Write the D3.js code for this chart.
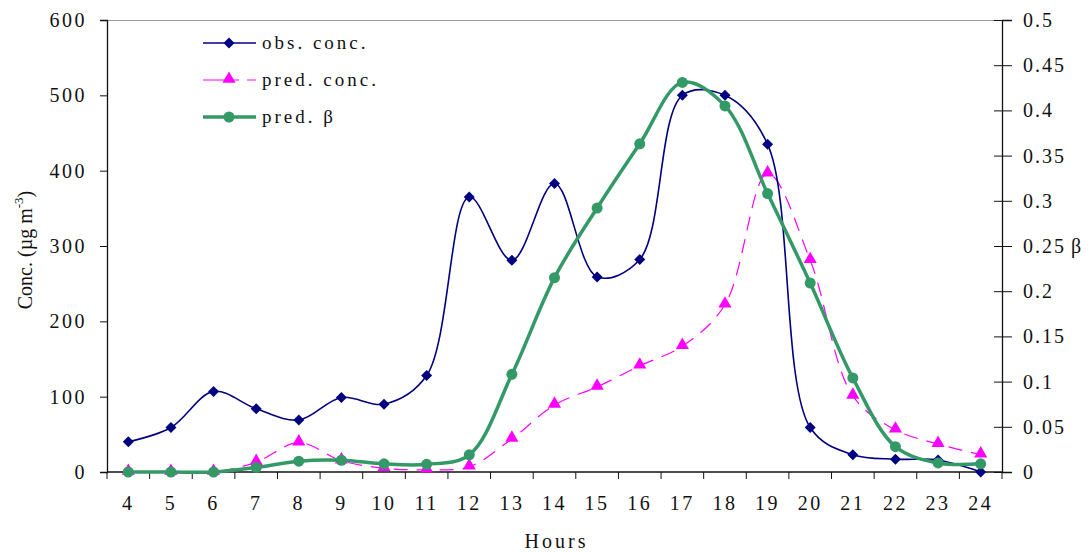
<!DOCTYPE html>
<html>
<head>
  <meta charset="utf-8">
  <title>Conc. and beta by hour</title>
  <script src="https://d3js.org/d3.v7.min.js"></script>
  <style>
    body { margin: 0; background: white; }
    svg text { font-family: "Liberation Serif", "Times New Roman", serif; fill: #111; }
  </style>
</head>
<body>
<div id="chart"></div>
<script>
// hours on the x axis
var hours = d3.range(4, 25);
// observed concentration (ug m-3)
var obsConc = [40, 59, 107, 84, 69, 99, 90, 128, 365, 281, 383, 259, 282, 500, 500, 435, 59, 23, 17, 16, 0];
// predicted concentration (ug m-3)
var predConc = [0, 0, 0, 13, 39, 15, 5, 3, 7, 44, 89, 113, 141, 167, 222, 396, 281, 101, 56, 37, 23];
// predicted beta (right axis)
var predBeta = [0, 0, 0, 0.005, 0.012, 0.013, 0.009, 0.0085, 0.019, 0.108, 0.215, 0.292, 0.363, 0.431, 0.405, 0.308, 0.209, 0.104, 0.028, 0.010, 0.009];

var leftTicks = [0, 100, 200, 300, 400, 500, 600];
var rightTicks = [0, 0.05, 0.1, 0.15, 0.2, 0.25, 0.3, 0.35, 0.4, 0.45, 0.5];

var W = 1091, H = 552;
var margin = {top: 20, right: 89, bottom: 80, left: 107};
var serif = '"Liberation Serif", "Times New Roman", serif';

var svg = d3.select("#chart").append("svg")
  .attr("width", W).attr("height", H);

var x = d3.scaleBand().domain(hours).range([margin.left, W - margin.right]).padding(0);
var yL = d3.scaleLinear().domain([0, 600]).range([H - margin.bottom, margin.top]);
var yR = d3.scaleLinear().domain([0, 0.5]).range([H - margin.bottom, margin.top]);
var cx = function(h) { return x(h) + x.bandwidth() / 2; };

function styleAxis(g, spacing) {
  g.attr("font-family", serif).attr("font-size", 20);
  g.selectAll(".tick text").style("letter-spacing", spacing).attr("fill", "#111");
  g.selectAll(".tick line").attr("stroke", "#111");
}

// top border of plot area
svg.append("line")
  .attr("x1", margin.left).attr("x2", W - margin.right)
  .attr("y1", margin.top + 0.5).attr("y2", margin.top + 0.5)
  .attr("stroke", "#999").attr("stroke-width", 1);

// left axis
var gL = svg.append("g")
  .attr("transform", "translate(" + margin.left + ",0)")
  .call(d3.axisLeft(yL).tickValues(leftTicks).tickSize(7).tickPadding(13));
gL.select(".domain").attr("stroke", "#111").attr("stroke-width", 1.3);
styleAxis(gL, "2.5px");

// right axis (ticks cross the axis)
var gR = svg.append("g")
  .attr("transform", "translate(" + (W - margin.right) + ",0)")
  .call(d3.axisRight(yR).tickValues(rightTicks).tickSize(10).tickPadding(11)
    .tickFormat(function(d) { return d === 0 ? "0" : String(+d.toFixed(2)); }));
gR.select(".domain").attr("stroke", "#111").attr("stroke-width", 1.3);
styleAxis(gR, "2px");
gR.selectAll(".tick line").attr("x1", -8);

// bottom axis: labels at centres, tick marks at band edges
var gB = svg.append("g")
  .attr("transform", "translate(0," + (H - margin.bottom) + ")")
  .call(d3.axisBottom(x).tickSize(0).tickPadding(24));
gB.select(".domain").remove();
styleAxis(gB, "2.5px");
gB.append("line")
  .attr("x1", margin.left).attr("x2", W - margin.right)
  .attr("stroke", "#111").attr("stroke-width", 1.3);
gB.selectAll(".edge")
  .data(hours.concat([25]))
  .enter().append("line")
  .attr("class", "edge")
  .attr("x1", function(h) { return h === 25 ? W - margin.right : x(h); })
  .attr("x2", function(h) { return h === 25 ? W - margin.right : x(h); })
  .attr("y1", 0).attr("y2", 7)
  .attr("stroke", "#111");

// axis titles
svg.append("text")
  .attr("transform", "translate(32,250) rotate(-90)")
  .attr("text-anchor", "middle")
  .style("font-size", "20px")
  .html('Conc. (µg m<tspan dy="-9" font-size="13">-3</tspan><tspan dy="9">)</tspan>');

svg.append("text")
  .attr("x", 1076).attr("y", 253)
  .attr("text-anchor", "middle")
  .style("font-size", "20px")
  .text("β");

svg.append("text")
  .attr("x", (margin.left + W - margin.right) / 2 + 2).attr("y", 548)
  .attr("text-anchor", "middle")
  .style("font-size", "20px")
  .style("letter-spacing", "3px")
  .text("Hours");

var curve = d3.curveCatmullRom.alpha(0.5);

// pred. conc. (dashed magenta)
var lineConc = d3.line().curve(curve)
  .x(function(d, i) { return cx(hours[i]); })
  .y(function(d) { return yL(d); });

svg.append("path")
  .datum(predConc)
  .attr("fill", "none")
  .attr("stroke", "#FF00FF")
  .attr("stroke-width", 1.2)
  .attr("stroke-dasharray", "14,9")
  .attr("d", lineConc);

// obs. conc. (navy)
svg.append("path")
  .datum(obsConc)
  .attr("fill", "none")
  .attr("stroke", "#000080")
  .attr("stroke-width", 1.6)
  .attr("d", lineConc);

// pred. beta (green, right axis)
var lineBeta = d3.line().curve(curve)
  .x(function(d, i) { return cx(hours[i]); })
  .y(function(d) { return yR(d); });

svg.append("path")
  .datum(predBeta)
  .attr("fill", "none")
  .attr("stroke", "#339966")
  .attr("stroke-width", 3.5)
  .attr("d", lineBeta);

var triangle = d3.symbol().type(d3.symbolTriangle).size(75);
var diamond = "M0,-5.5L5.5,0L0,5.5L-5.5,0Z";

svg.selectAll(".tri")
  .data(predConc)
  .enter().append("path")
  .attr("class", "tri")
  .attr("transform", function(d, i) { return "translate(" + cx(hours[i]) + "," + (yL(d) - 1) + ")"; })
  .attr("d", triangle)
  .attr("fill", "#FF00FF");

svg.selectAll(".dia")
  .data(obsConc)
  .enter().append("path")
  .attr("class", "dia")
  .attr("transform", function(d, i) { return "translate(" + cx(hours[i]) + "," + yL(d) + ")"; })
  .attr("d", diamond)
  .attr("fill", "#000080");

svg.selectAll(".dot")
  .data(predBeta)
  .enter().append("circle")
  .attr("class", "dot")
  .attr("cx", function(d, i) { return cx(hours[i]); })
  .attr("cy", function(d) { return yR(d); })
  .attr("r", 5.5)
  .attr("fill", "#339966");

// legend
var legend = [
  {label: "obs. conc.", color: "#000080", width: 1.6, dash: null, mark: "diamond", y: 43},
  {label: "pred. conc.", color: "#FF00FF", width: 1.2, dash: "36,8", mark: "triangle", y: 80},
  {label: "pred. β", color: "#339966", width: 3.5, dash: null, mark: "circle", y: 117}
];
var lg = svg.append("g");
legend.forEach(function(l) {
  lg.append("line")
    .attr("x1", 203).attr("x2", 256)
    .attr("y1", l.y).attr("y2", l.y)
    .attr("stroke", l.color).attr("stroke-width", l.width)
    .attr("stroke-dasharray", l.dash);
  if (l.mark === "diamond") {
    lg.append("path").attr("d", diamond)
      .attr("transform", "translate(229," + l.y + ")").attr("fill", l.color);
  } else if (l.mark === "triangle") {
    lg.append("path").attr("d", triangle)
      .attr("transform", "translate(229," + (l.y - 1) + ")").attr("fill", l.color);
  } else {
    lg.append("circle").attr("cx", 229).attr("cy", l.y).attr("r", 5.5).attr("fill", l.color);
  }
  lg.append("text")
    .attr("x", 262).attr("y", l.y + 6)
    .style("font-size", "19px")
    .style("letter-spacing", "3px")
    .text(l.label);
});
</script>
</body>
</html>
